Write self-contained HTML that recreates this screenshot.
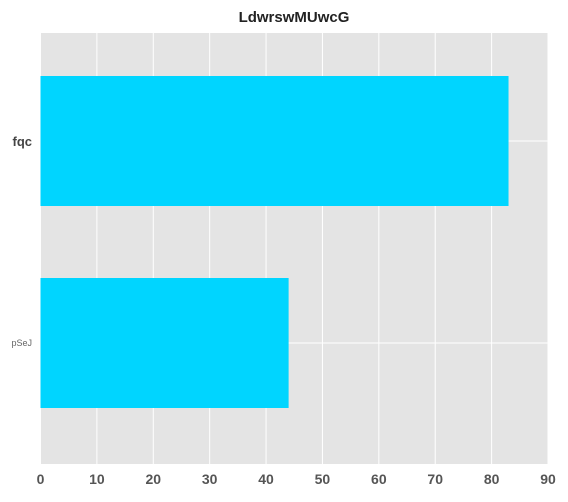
<!DOCTYPE html>
<html><head><meta charset="utf-8"><style>
body{margin:0;background:#fff;width:568px;height:497px;overflow:hidden}
text{font-family:"Liberation Sans",sans-serif}
</style></head><body>
<svg id="chart" width="568" height="497" xmlns="http://www.w3.org/2000/svg">
<text x="294" y="22" text-anchor="middle" font-size="15" font-weight="bold" fill="#222">LdwrswMUwcG</text>
</svg>
<script>
const categories = ["fqc", "pSeJ"];
const values = [83, 44];
const xTicks = [0,10,20,30,40,50,60,70,80,90];
const svg = document.getElementById('chart');
const NS = 'http://www.w3.org/2000/svg';
const L=40.5, R=548, T=33, B=464, XMAX=90;
const x = v => L + v/XMAX*(R-L);
const yc = i => 141 + 202*i;
function mk(tag, attrs){const e=document.createElementNS(NS,tag);for(const k in attrs)e.setAttribute(k,attrs[k]);svg.appendChild(e);return e;}
const bg = mk('rect',{x:L,y:T,width:R-L,height:B-T,fill:'#e4e4e4'});


xTicks.forEach(t=>{
  const g = mk('line',{x1:x(t),x2:x(t),y1:T,y2:B,stroke:'#fff','stroke-width':1});
  
  
  const lb = mk('text',{x:x(t),y:484,'text-anchor':'middle','font-size':14,'font-weight':'bold',fill:'#555'});
  lb.textContent=t;
  
  
});
categories.forEach((c,i)=>{
  const cy = yc(i);
  const g = mk('line',{x1:L,x2:R,y1:cy,y2:cy,stroke:'#fff','stroke-width':1});
  
  
});
categories.forEach((c,i)=>{
  const cy = yc(i);
  const h = 130;
  const r = mk('rect',{x:L,y:cy-h/2,width:x(values[i])-L,height:h,fill:'#00d5ff'});
  
  
  const big = i===0;
  const lb = mk('text',{x:32,y:cy+(big?5:3),'text-anchor':'end','font-size':big?13:9,'font-weight':big?'bold':'normal',fill:big?'#444':'#666'});
  lb.textContent=c;
  
  
});
</script>
</body></html>
